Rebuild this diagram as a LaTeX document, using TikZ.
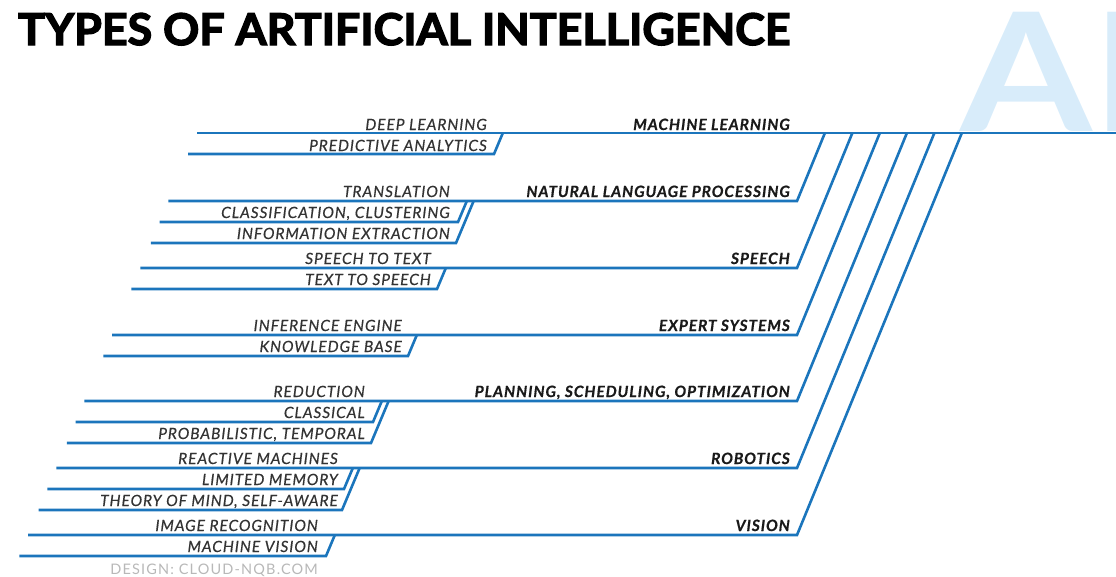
\documentclass[tikz,border=0pt]{standalone}
\usepackage{fontspec}
\setmainfont{Lato}
\newfontfamily\labelfont{Lato}[LetterSpace=6,FakeBold=0.5]
\newfontfamily\creditfont{Lato}[LetterSpace=8]
\newfontfamily\titlefont{Lato}[FakeBold=3]
\usepackage{tikz}
\usetikzlibrary{positioning,calc}
\definecolor{AIBlue}{HTML}{1B75BC}
\definecolor{AIPale}{HTML}{D8ECFA}
\definecolor{SubText}{HTML}{333333}
\definecolor{CatText}{HTML}{1A1A1A}
\definecolor{Credit}{HTML}{B8B8B8}

\begin{document}
\begin{tikzpicture}[x=1pt,y=-1pt,
  branch/.style={draw=AIBlue,line width=2.6pt,line join=miter},
  sub/.style={anchor=base east,inner sep=0pt,text=SubText,
    font=\labelfont\fontsize{15.5}{17}\selectfont\itshape},
  cat/.style={anchor=base east,inner sep=0pt,text=CatText,
    font=\labelfont\fontsize{15.5}{17}\selectfont\bfseries\itshape}]

  \useasboundingbox (0,0) rectangle (1116,576);
  \clip (0,0) rectangle (1116,576);

  % big pale letters behind the trunk
  \node[anchor=base west,inner sep=0pt,text=AIPale,
    font=\fontsize{165}{165}\selectfont\bfseries] (ai) at (960,131)
    {\scalebox{1.15}[1]{AI}};

  \node[anchor=base west,inner sep=0pt] (title) at (18,45)
    {\resizebox{772pt}{32pt}{\titlefont\bfseries TYPES OF ARTIFICIAL INTELLIGENCE}};

  % trunk (machine learning runs along it)
  \coordinate (ml-l) at (197,133);
  \coordinate (trunk-r) at (1116,133);
  \draw[branch] (ml-l) -- (trunk-r);

  % category branches
  \foreach \name/\y in {nlp/201,speech/268,expert/335,plan/401,robot/468,vision/535}{
    \coordinate (\name-l) at ({197-0.42*(\y-133)},\y);
    \coordinate (\name-c) at (797,\y);
    \coordinate (\name-t) at ({797+0.41*(\y-133)},133);
    \draw[branch] (\name-l) -- (\name-c) -- (\name-t);
  }

  % sub-item lines hooking back up to their category line
  \foreach \name/\y/\e/\k in {ml/133/494/2,nlp/201/458/3,speech/268/437/2,
      expert/335/408/2,plan/401/373/3,robot/468/344/3,vision/535/326/2}{
    \foreach \i in {2,...,\k}{
      \pgfmathsetmacro\yy{\y+21*(\i-1)}
      \pgfmathsetmacro\ee{\e-2*(\i-2)}
      \coordinate (\name-\i-l) at ({197-0.42*(\yy-133)},\yy);
      \coordinate (\name-\i-e) at (\ee,\yy);
      \coordinate (\name-\i-t) at ({\ee+0.42*21*(\i-1)},\y);
      \draw[branch] (\name-\i-l) -- (\name-\i-e) -- (\name-\i-t);
    }
  }

  % category labels
  \node[cat] (ml)     at (790,130) {MACHINE LEARNING};
  \node[cat] (nlp)    at (790,197) {NATURAL LANGUAGE PROCESSING};
  \node[cat] (speech) at (790,264) {SPEECH};
  \node[cat] (expert) at (790,331) {EXPERT SYSTEMS};
  \node[cat] (plan)   at (790,397) {PLANNING, SCHEDULING, OPTIMIZATION};
  \node[cat] (robot)  at (790,464) {ROBOTICS};
  \node[cat] (vision) at (790,531) {VISION};

  % sub items
  \node[sub] (deep)   at (487,130) {DEEP LEARNING};
  \node[sub] (pred)   at (487,151) {PREDICTIVE ANALYTICS};
  \node[sub] (trans)  at (450,197) {TRANSLATION};
  \node[sub] (class)  at (450,218) {CLASSIFICATION, CLUSTERING};
  \node[sub] (info)   at (450,239) {INFORMATION EXTRACTION};
  \node[sub] (stt)    at (431,264) {SPEECH TO TEXT};
  \node[sub] (tts)    at (431,285) {TEXT TO SPEECH};
  \node[sub] (infer)  at (402,331) {INFERENCE ENGINE};
  \node[sub] (kb)     at (402,352) {KNOWLEDGE BASE};
  \node[sub] (reduce) at (365,397) {REDUCTION};
  \node[sub] (classic) at (365,418) {CLASSICAL};
  \node[sub] (prob)   at (365,439) {PROBABILISTIC, TEMPORAL};
  \node[sub] (react)  at (338,464) {REACTIVE MACHINES};
  \node[sub] (limit)  at (338,485) {LIMITED MEMORY};
  \node[sub] (theory) at (338,506) {THEORY OF MIND, SELF-AWARE};
  \node[sub] (imrec)  at (318,531) {IMAGE RECOGNITION};
  \node[sub] (mvis)   at (318,552) {MACHINE VISION};

  \node[anchor=base east,inner sep=0pt,text=Credit,
    font=\creditfont\fontsize{14.5}{16}\selectfont] (credit) at (318,574)
    {DESIGN: CLOUD-NQB.COM};
\end{tikzpicture}
\end{document}
